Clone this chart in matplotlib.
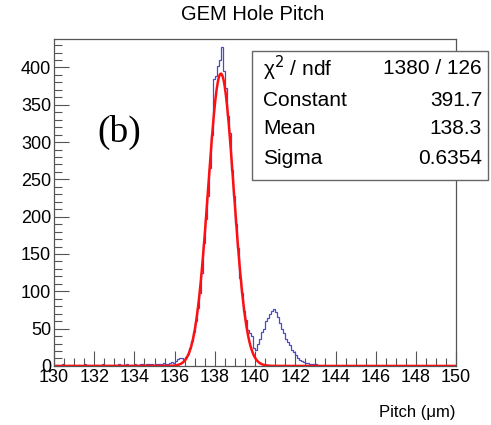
import numpy as np
import matplotlib
matplotlib.use('Agg')
import matplotlib.pyplot as plt
from matplotlib.ticker import MultipleLocator
from matplotlib.patches import Rectangle

# histogram: 0.1 um bins from 130 to 150
bin_lo = 130.0
bin_hi = 150.0
counts = [
    0, 1, 0, 0, 2, 0, 0, 1, 0, 1,            # 130
    0, 0, 1, 0, 0, 2, 0, 1, 0, 0,            # 131
    0, 1, 0, 0, 3, 0, 0, 1, 0, 0,            # 132
    1, 0, 2, 1, 0, 1, 2, 0, 1, 0,            # 133
    2, 1, 1, 3, 2, 1, 2, 3, 2, 1,            # 134
    2, 3, 2, 3, 4, 3, 2, 4, 5, 4,            # 135
    6, 9, 11, 10, 8, 12, 16, 24, 33, 45,     # 136
    60, 78, 98, 124, 165, 197, 228, 265, 310, 385,   # 137
    388, 402, 410, 428, 395, 372, 335, 312, 262, 228,  # 138
    190, 158, 118, 98, 74, 62, 48, 44, 40, 24,   # 139
    22, 30, 36, 46, 50, 60, 64, 70, 74, 76,      # 140
    72, 66, 58, 50, 44, 36, 32, 28, 22, 18,      # 141
    14, 10, 8, 6, 5, 4, 4, 3, 3, 2,              # 142
    2, 1, 0, 0, 0, 0, 0, 0, 0, 0,                # 143
] + [0] * 60

# gaussian fit results
fit_names = ['\u03c7$^{2}$ / ndf', 'Constant', 'Mean', 'Sigma']
fit_values = ['1380 / 126', '391.7', '138.3', '0.6354']
g_const = 391.7
g_mean = 138.3
g_sigma = 0.6354

plt.rcParams['font.family'] = ['Liberation Sans', 'DejaVu Sans']

fig = plt.figure(figsize=(4.91, 4.25), dpi=100)
ax = fig.add_axes([0.110, 0.139, 0.819, 0.769])

edges = np.linspace(bin_lo, bin_hi, len(counts) + 1)
ax.stairs(counts, edges, color='#4a4ac8', linewidth=0.9)

xf = np.linspace(bin_lo, bin_hi, 1000)
yf = g_const * np.exp(-0.5 * ((xf - g_mean) / g_sigma) ** 2)
ax.plot(xf, yf, color='#ff1010', linewidth=1.8)

ax.set_xlim(130, 150)
ax.set_ylim(0, 438)
ax.xaxis.set_major_locator(MultipleLocator(2))
ax.xaxis.set_minor_locator(MultipleLocator(0.5))
ax.yaxis.set_major_locator(MultipleLocator(50))
ax.yaxis.set_minor_locator(MultipleLocator(10))
ax.tick_params(which='both', direction='in', top=False, right=False,
               labelsize=13, color='#555555')
ax.tick_params(which='major', length=11, width=0.8, pad=2)
ax.tick_params(which='minor', length=6, width=0.8)
for s in ax.spines.values():
    s.set_color('#555555')
    s.set_linewidth(0.9)

fig.text(0.515, 0.965, 'GEM Hole Pitch', ha='center', va='center', fontsize=14.5)
fig.text(0.927, 0.03, 'Pitch (\u03bcm)', ha='right', va='center', fontsize=12)

# "(b)" panel label
ax.text(0.108, 0.715, '(b)', transform=ax.transAxes, fontsize=27,
        family='Liberation Serif', ha='left', va='center')

# stats box
bx0, by0, bw, bh = 252 / 491, 1 - 180 / 425, 236 / 491, 129 / 425
fig.patches.append(Rectangle((bx0, by0), bw, bh, transform=fig.transFigure,
                             facecolor='white', edgecolor='#666666',
                             linewidth=1.0, zorder=5))
rows_y = [68, 101, 129, 158]
for name, val, yy in zip(fit_names, fit_values, rows_y):
    fig.text(bx0 + 0.022, 1 - yy / 425, name, fontsize=15, ha='left', va='center', zorder=6)
    fig.text(bx0 + bw - 0.012, 1 - yy / 425, val, fontsize=15, ha='right', va='center', zorder=6)

fig.savefig('out.png', dpi=100)
